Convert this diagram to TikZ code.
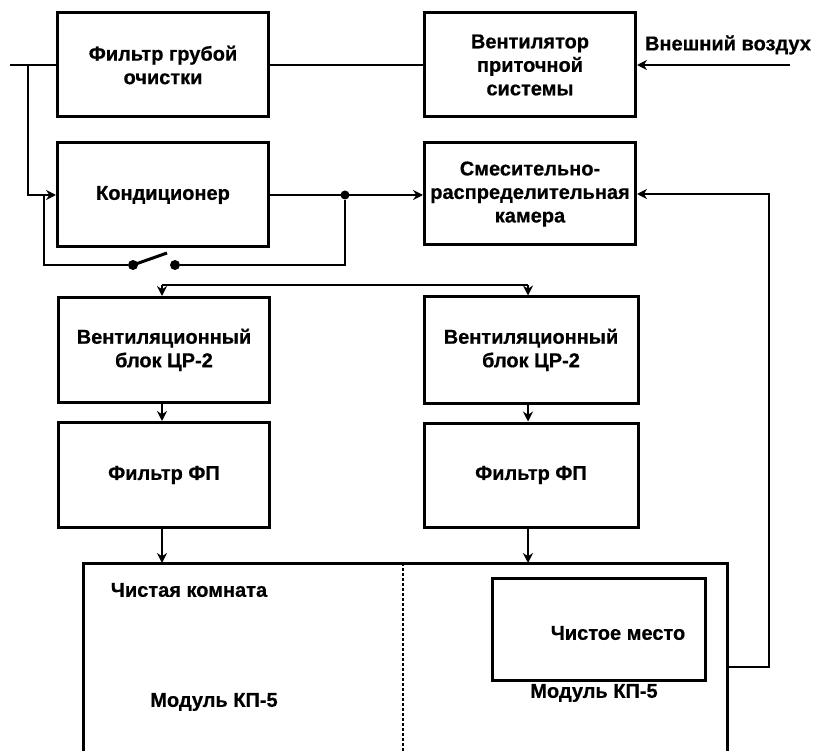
\documentclass[tikz,border=0pt]{standalone}
\usepackage{fontspec}
\setmainfont{Liberation Sans}[FakeBold=0.6]
\usetikzlibrary{arrows.meta}
\begin{document}
\begin{tikzpicture}[x=1pt,y=-1pt,
  box/.style={draw=black, line width=3pt, minimum width=211pt, minimum height=104pt,
    align=center, inner sep=2pt, font=\bfseries\fontsize{20pt}{23.5pt}\selectfont},
  txt/.style={font=\bfseries\fontsize{20pt}{23.5pt}\selectfont, inner sep=0pt},
  conn/.style={line width=2.5pt, black},
  arr/.style={conn, -{Stealth[length=10pt,width=10pt]}},
  jdot/.style={circle, fill=black, inner sep=0pt, minimum size=9pt},
  divider/.style={line width=2.2pt, dash pattern=on 3pt off 2pt}]
\useasboundingbox (0,0) rectangle (814,751);
% boxes
\node[box] (f1) at (163,65) {Фильтр грубой\\очистки};
\node[box] (cond) at (163,195) {Кондиционер};
\node[box] (fan) at (530,65) {Вентилятор\\приточной\\системы};
\node[box, minimum height=102pt] (cam) at (530,194) {Смесительно-\\распределительная\\камера};
\node[box, minimum height=105pt] (v1) at (164,350) {Вентиляционный\\блок ЦР-2};
\node[box, minimum height=105pt] (fp1) at (164,475) {Фильтр ФП};
\node[box, minimum width=214pt, minimum height=106pt] (v2) at (531,350) {Вентиляционный\\блок ЦР-2};
\node[box, minimum width=214pt] (fp2) at (531,475) {Фильтр ФП};
\node[box, minimum width=213pt, minimum height=102pt] (place) at (598.5,629) {};
\node[txt] (placet) at (618,633) {Чистое место};
% clean room (open at the bottom)
\coordinate (rbl) at (83,751);
\coordinate (rtl) at (83,563);
\coordinate (rtr) at (727,563);
\coordinate (rbr) at (727,751);
\draw[line width=3pt] (rbl) -- (rtl) -- (rtr) -- (rbr);
\coordinate (dtop) at (403,563);
\coordinate (dbot) at (403,751);
\draw[divider] (dtop) -- (dbot);
\node[txt] (room) at (189,590) {Чистая комната};
\node[txt] (mod1) at (214,702) {Модуль КП-5};
\node[txt] (mod2) at (594,693) {Модуль КП-5};
\node[txt] (air) at (728,45) {Внешний воздух};
% inlet
\coordinate (in) at (10,65);
\coordinate (br) at (28,65);
\draw[conn] (in) -- (f1.west);
\draw[arr] (br) -- (28,195) -- (cond.west);
\draw[conn] (f1.east) -- (fan.west);
\coordinate (airin) at (790,65);
\draw[arr] (airin) -- (fan.east);
% conditioner to camera
\coordinate (j1) at (345,195);
\draw[arr] (cond.east |- j1) -- (cam.west |- j1);
\node[jdot] (jd) at (j1) {};
% bypass with switch
\node[jdot, minimum size=10pt] (sw1) at (133,265) {};
\node[jdot, minimum size=10pt] (sw2) at (175,265) {};
\draw[conn] (44,195) -- (44,265) -- (sw1);
\draw[conn, line width=3pt] (sw1.center) -- (167,253);
\draw[conn] (sw2) -- (345,265) -- (jd);
% distribution
\coordinate (d1) at (162,285);
\coordinate (d2) at (528,285);
\draw[conn] (d1) -- (d2);
\draw[arr] (d1) -- (v1.north -| d1);
\draw[arr] (d2) -- (v2.north -| d2);
\draw[arr] (v1.south -| d1) -- (fp1.north -| d1);
\draw[arr] (v2.south -| d2) -- (fp2.north -| d2);
\draw[arr] (fp1.south -| d1) -- (rtl -| d1);
\draw[arr] (fp2.south -| d2) -- (rtl -| d2);
% return
\coordinate (ret) at (727,667);
\draw[arr] (ret) -- (769,667) -- (769,194) -- (cam.east);
\end{tikzpicture}
\end{document}
